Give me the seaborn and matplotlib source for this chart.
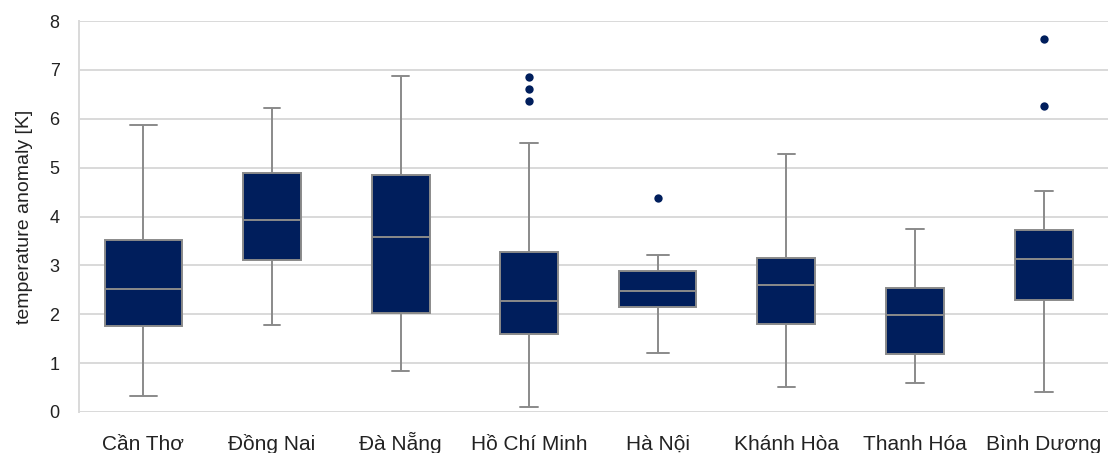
import matplotlib
matplotlib.use("Agg")
import matplotlib.pyplot as plt
import seaborn as sns
import pandas as pd

# Five-number summaries per city (temperature anomaly, K)
cities = ["Cần Thơ", "Đồng Nai", "Đà Nẵng", "Hồ Chí Minh",
          "Hà Nội", "Khánh Hòa", "Thanh Hóa", "Bình Dương"]
whisker_low = [0.32, 1.78, 0.84, 0.10, 1.21, 0.51, 0.59, 0.41]
q1 = [1.76, 3.10, 2.03, 1.60, 2.15, 1.80, 1.19, 2.30]
median = [2.51, 3.92, 3.59, 2.28, 2.48, 2.60, 1.99, 3.14]
q3 = [3.51, 4.88, 4.84, 3.28, 2.89, 3.16, 2.54, 3.73]
whisker_high = [5.88, 6.22, 6.87, 5.50, 3.22, 5.27, 3.75, 4.53]

# Outlying values
outlier_city = ["Hồ Chí Minh", "Hồ Chí Minh", "Hồ Chí Minh", "Hà Nội",
                "Bình Dương", "Bình Dương"]
outlier_value = [6.85, 6.61, 6.37, 4.37, 7.63, 6.26]

# Box and cap widths (category units)
box_width = [0.60, 0.45, 0.45, 0.45, 0.60, 0.45, 0.45, 0.45]
cap_width = [0.21, 0.13, 0.13, 0.14, 0.17, 0.13, 0.14, 0.14]

navy = "#001e5c"
edge = "#8a8a8a"
text_color = "#222222"

sns.set_theme(style="whitegrid")
plt.rcParams["font.family"] = ["Liberation Sans", "DejaVu Sans"]

fig = plt.figure(figsize=(11.08, 4.53), dpi=100)
ax = fig.add_axes([79 / 1108, 41 / 453, 1029 / 1108, 391 / 453])

for i, city in enumerate(cities):
    # a five-point sample reproduces the summary exactly with whis=(0, 100)
    df = pd.DataFrame({
        "city": city,
        "value": [whisker_low[i], q1[i], median[i], q3[i], whisker_high[i]],
    })
    sns.boxplot(data=df, x="city", y="value", order=cities, ax=ax,
                whis=(0, 100), width=box_width[i], saturation=1,
                color=navy, linecolor=edge, linewidth=1.4,
                capwidths=cap_width[i], showfliers=False)

out = pd.DataFrame({"city": outlier_city, "value": outlier_value})
sns.stripplot(data=out, x="city", y="value", order=cities, ax=ax,
              jitter=False, color=navy, size=6, linewidth=0)

ax.set_xlim(-0.5, 7.5)
ax.set_ylim(0, 8)
ax.set_yticks(range(0, 9))
ax.set_xlabel("")
ax.set_ylabel("temperature anomaly [K]", fontsize=14, color=text_color,
              labelpad=12)
ax.tick_params(axis="y", labelsize=13, colors=text_color, pad=14, length=0)
ax.tick_params(axis="x", labelsize=15, colors=text_color, pad=27, length=0)
for lab in ax.get_xticklabels():
    # align on the baseline so diacritics do not shift the labels
    lab.set_verticalalignment("baseline")

ax.grid(axis="y", color="#d9d9d9", linewidth=1.4)
ax.grid(axis="x", visible=False)
ax.set_axisbelow(True)
for side in ["top", "right", "bottom"]:
    ax.spines[side].set_visible(False)
ax.spines["left"].set_color("#d9d9d9")
ax.spines["left"].set_linewidth(1.4)

fig.savefig("out.png", dpi=100)
